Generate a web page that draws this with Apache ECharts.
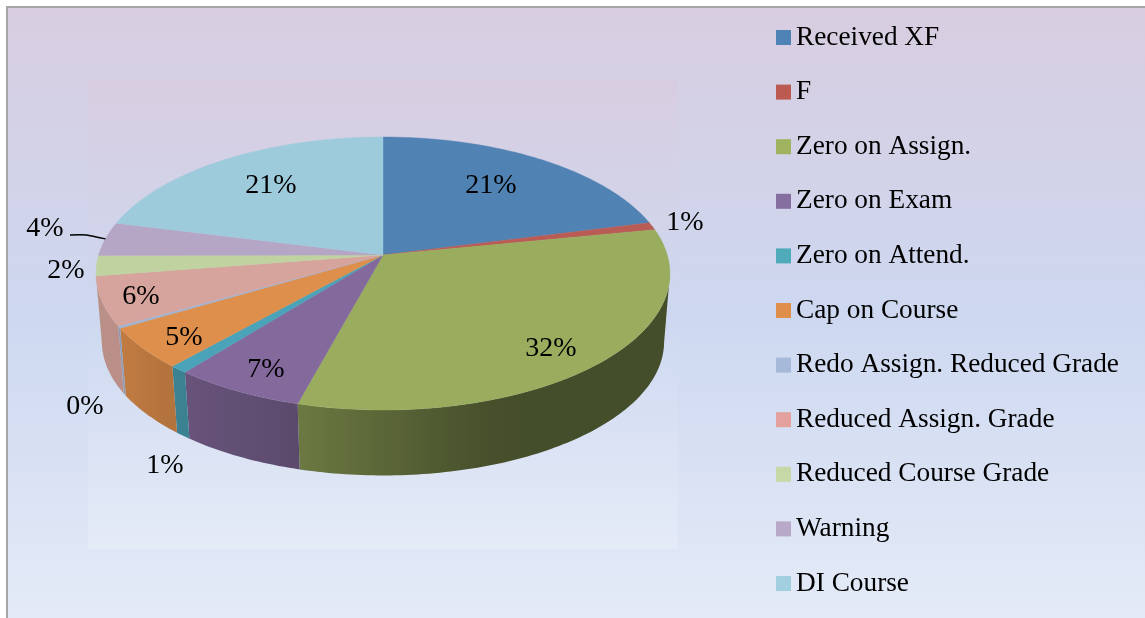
<!DOCTYPE html>
<html>
<head>
<meta charset="utf-8">
<script src="https://cdn.jsdelivr.net/npm/echarts@6/dist/echarts.min.js"></script>
<style>
  html, body { margin: 0; padding: 0; background: #fff; }
  #chart { width: 1145px; height: 618px; }
</style>
</head>
<body>
<div id="chart"></div>
<script>
// data
const categories = ['Received XF', 'F', 'Zero on Assign.', 'Zero on Exam', 'Zero on Attend.', 'Cap on Course',
  'Redo Assign. Reduced Grade', 'Reduced Assign. Grade', 'Reduced Course Grade', 'Warning', 'DI Course'];
const shares = [21.0, 0.9, 32.3, 6.5, 0.9, 4.9, 0.25, 5.8, 2.4, 4.0, 21.05];
const faceColors = ['#5082b3', '#b85c55', '#9aad5e', '#846a9c', '#4aa3b8', '#df8f4c', '#a0b4d4', '#d6a49c', '#c1d2a1', '#b6a6c6', '#9ecbdb'];
const legendColors = ['#5083b5', '#bc5a52', '#a0b45f', '#866ea0', '#4faaba', '#e08f4a', '#a6b9d8', '#e3a09c', '#c6d8a5', '#b8a9c9', '#a1cfdf'];

// where each percent label sits
const labelAnchors = [[491, 186], [685, 223], [551, 349], [266, 370], [165, 466], [184, 338], [85, 407], [141, 297], [66, 271], [45, 229], [271, 186]];

// 3D look: tilted disc with perspective
const HUB = { x: 383, y: 255 };
const RADIUS_X = 284.3, RADIUS_Y = 134, PERSPECTIVE = 0.1355;
const DEPTH = 69, BOTTOM_SCALE = 0.98;
const SIDE_FROM = 97.8, SIDE_TO = 262.2;
const FONT = '"Liberation Serif", serif';

const total = shares.reduce((a, b) => a + b, 0);

function project(deg, r, drop) {
  const t = deg * Math.PI / 180;
  const x = Math.sin(t) * r, y = Math.cos(t) * r;
  const d = 1 + PERSPECTIVE * y;
  return [HUB.x + RADIUS_X * x / d, HUB.y + drop - RADIUS_Y * y / d];
}

// wall gets darker going from the left side to the right side
function wallFactor(deg) {
  if (deg >= 240) return 0.87;
  if (deg >= 195) return 0.7 + (deg - 195) / 45 * 0.17;
  if (deg >= 160) return 0.45 + (deg - 160) / 35 * 0.25;
  return 0.45;
}

function shade(hex, f) {
  const n = parseInt(hex.slice(1), 16);
  const c = [n >> 16, (n >> 8) & 255, n & 255].map(v => Math.round(v * f));
  return `rgb(${c.join(',')})`;
}

function arc(from, to, r, drop) {
  const pts = [];
  for (let d = from; d < to; d += 1) pts.push(project(d, r, drop));
  pts.push(project(to, r, drop));
  return pts;
}

function wallFill(color, a, b) {
  const x0 = project(a, 1, 0)[0], x1 = project(b, 1, 0)[0];
  const stops = [];
  for (let i = 0; i <= 12; i++) {
    const d = a + (b - a) * i / 12;
    const off = (project(d, 1, 0)[0] - x0) / (x1 - x0);
    stops.push({ offset: off, color: shade(color, wallFactor(d)) });
  }
  stops.sort((p, q) => p.offset - q.offset);
  return new echarts.graphic.LinearGradient(x0, 0, x1, 0, stops, true);
}

function sliceChildren(index, from, to, share) {
  const color = faceColors[index];
  const children = [];

  // side wall
  const a = Math.max(from, SIDE_FROM), b = Math.min(to, SIDE_TO);
  if (b > a) {
    children.push({
      type: 'polygon',
      shape: { points: arc(a, b, 1, 0).concat(arc(a, b, BOTTOM_SCALE, DEPTH).reverse()) },
      style: { fill: wallFill(color, a, b) }
    });
  }

  // top face
  children.push({
    type: 'polygon',
    z2: 2,
    shape: { points: [[HUB.x, HUB.y]].concat(arc(from, to, 1, 0)) },
    style: { fill: color, stroke: color, lineWidth: 0.4 }
  });

  // percent label
  children.push({
    type: 'text',
    z2: 10,
    style: {
      text: Math.round(share / total * 100) + '%',
      x: labelAnchors[index][0],
      y: labelAnchors[index][1],
      fill: '#000',
      font: `28px ${FONT}`,
      align: 'center',
      verticalAlign: 'middle'
    }
  });

  // only the Warning label has a leader line
  if (categories[index] === 'Warning') {
    const end = project((from + to) / 2, 1, 0);
    children.push({
      type: 'polyline',
      z2: 10,
      shape: { points: [[labelAnchors[index][0] + 25, end[1] - 4], [end[0] - 19, end[1] - 4], end], smooth: 0.2 },
      style: { stroke: '#000', lineWidth: 1.5, fill: 'none' }
    });
  }
  return children;
}

let running = 0;
const series = categories.map((name, i) => {
  const from = running / total * 360;
  running += shares[i];
  const to = running / total * 360;
  return {
    name: name,
    type: 'custom',
    coordinateSystem: 'none',
    silent: true,
    itemStyle: { color: legendColors[i] },
    data: [[shares[i], from, to]],
    renderItem: (params, api) => ({
      type: 'group',
      children: sliceChildren(i, api.value(1), api.value(2), api.value(0))
    })
  };
});

const backdrop = () => new echarts.graphic.LinearGradient(0, 0, 0, 1, [
  { offset: 0, color: '#d8cde0' },
  { offset: 0.5, color: '#cdd8f0' },
  { offset: 1, color: '#e5ebf7' }
]);

const chart = echarts.init(document.getElementById('chart'));
chart.setOption({
  animation: false,
  backgroundColor: '#fff',
  graphic: [
    { type: 'rect', z: -2, silent: true, shape: { x: 7, y: 7, width: 1150, height: 620 },
      style: { fill: backdrop(), stroke: '#a6a6a6', lineWidth: 2 } },
    { type: 'rect', z: -1, silent: true, shape: { x: 88, y: 80, width: 590, height: 469 },
      style: { fill: backdrop() } }
  ],
  legend: {
    orient: 'vertical',
    left: 776,
    top: 24,
    padding: 0,
    itemWidth: 15,
    itemHeight: 15,
    itemGap: 27.6,
    selectedMode: false,
    icon: 'rect',
    data: categories,
    textStyle: { fontFamily: FONT, fontSize: 27.3, lineHeight: 27, color: '#000' }
  },
  series: series
});
</script>
</body>
</html>
